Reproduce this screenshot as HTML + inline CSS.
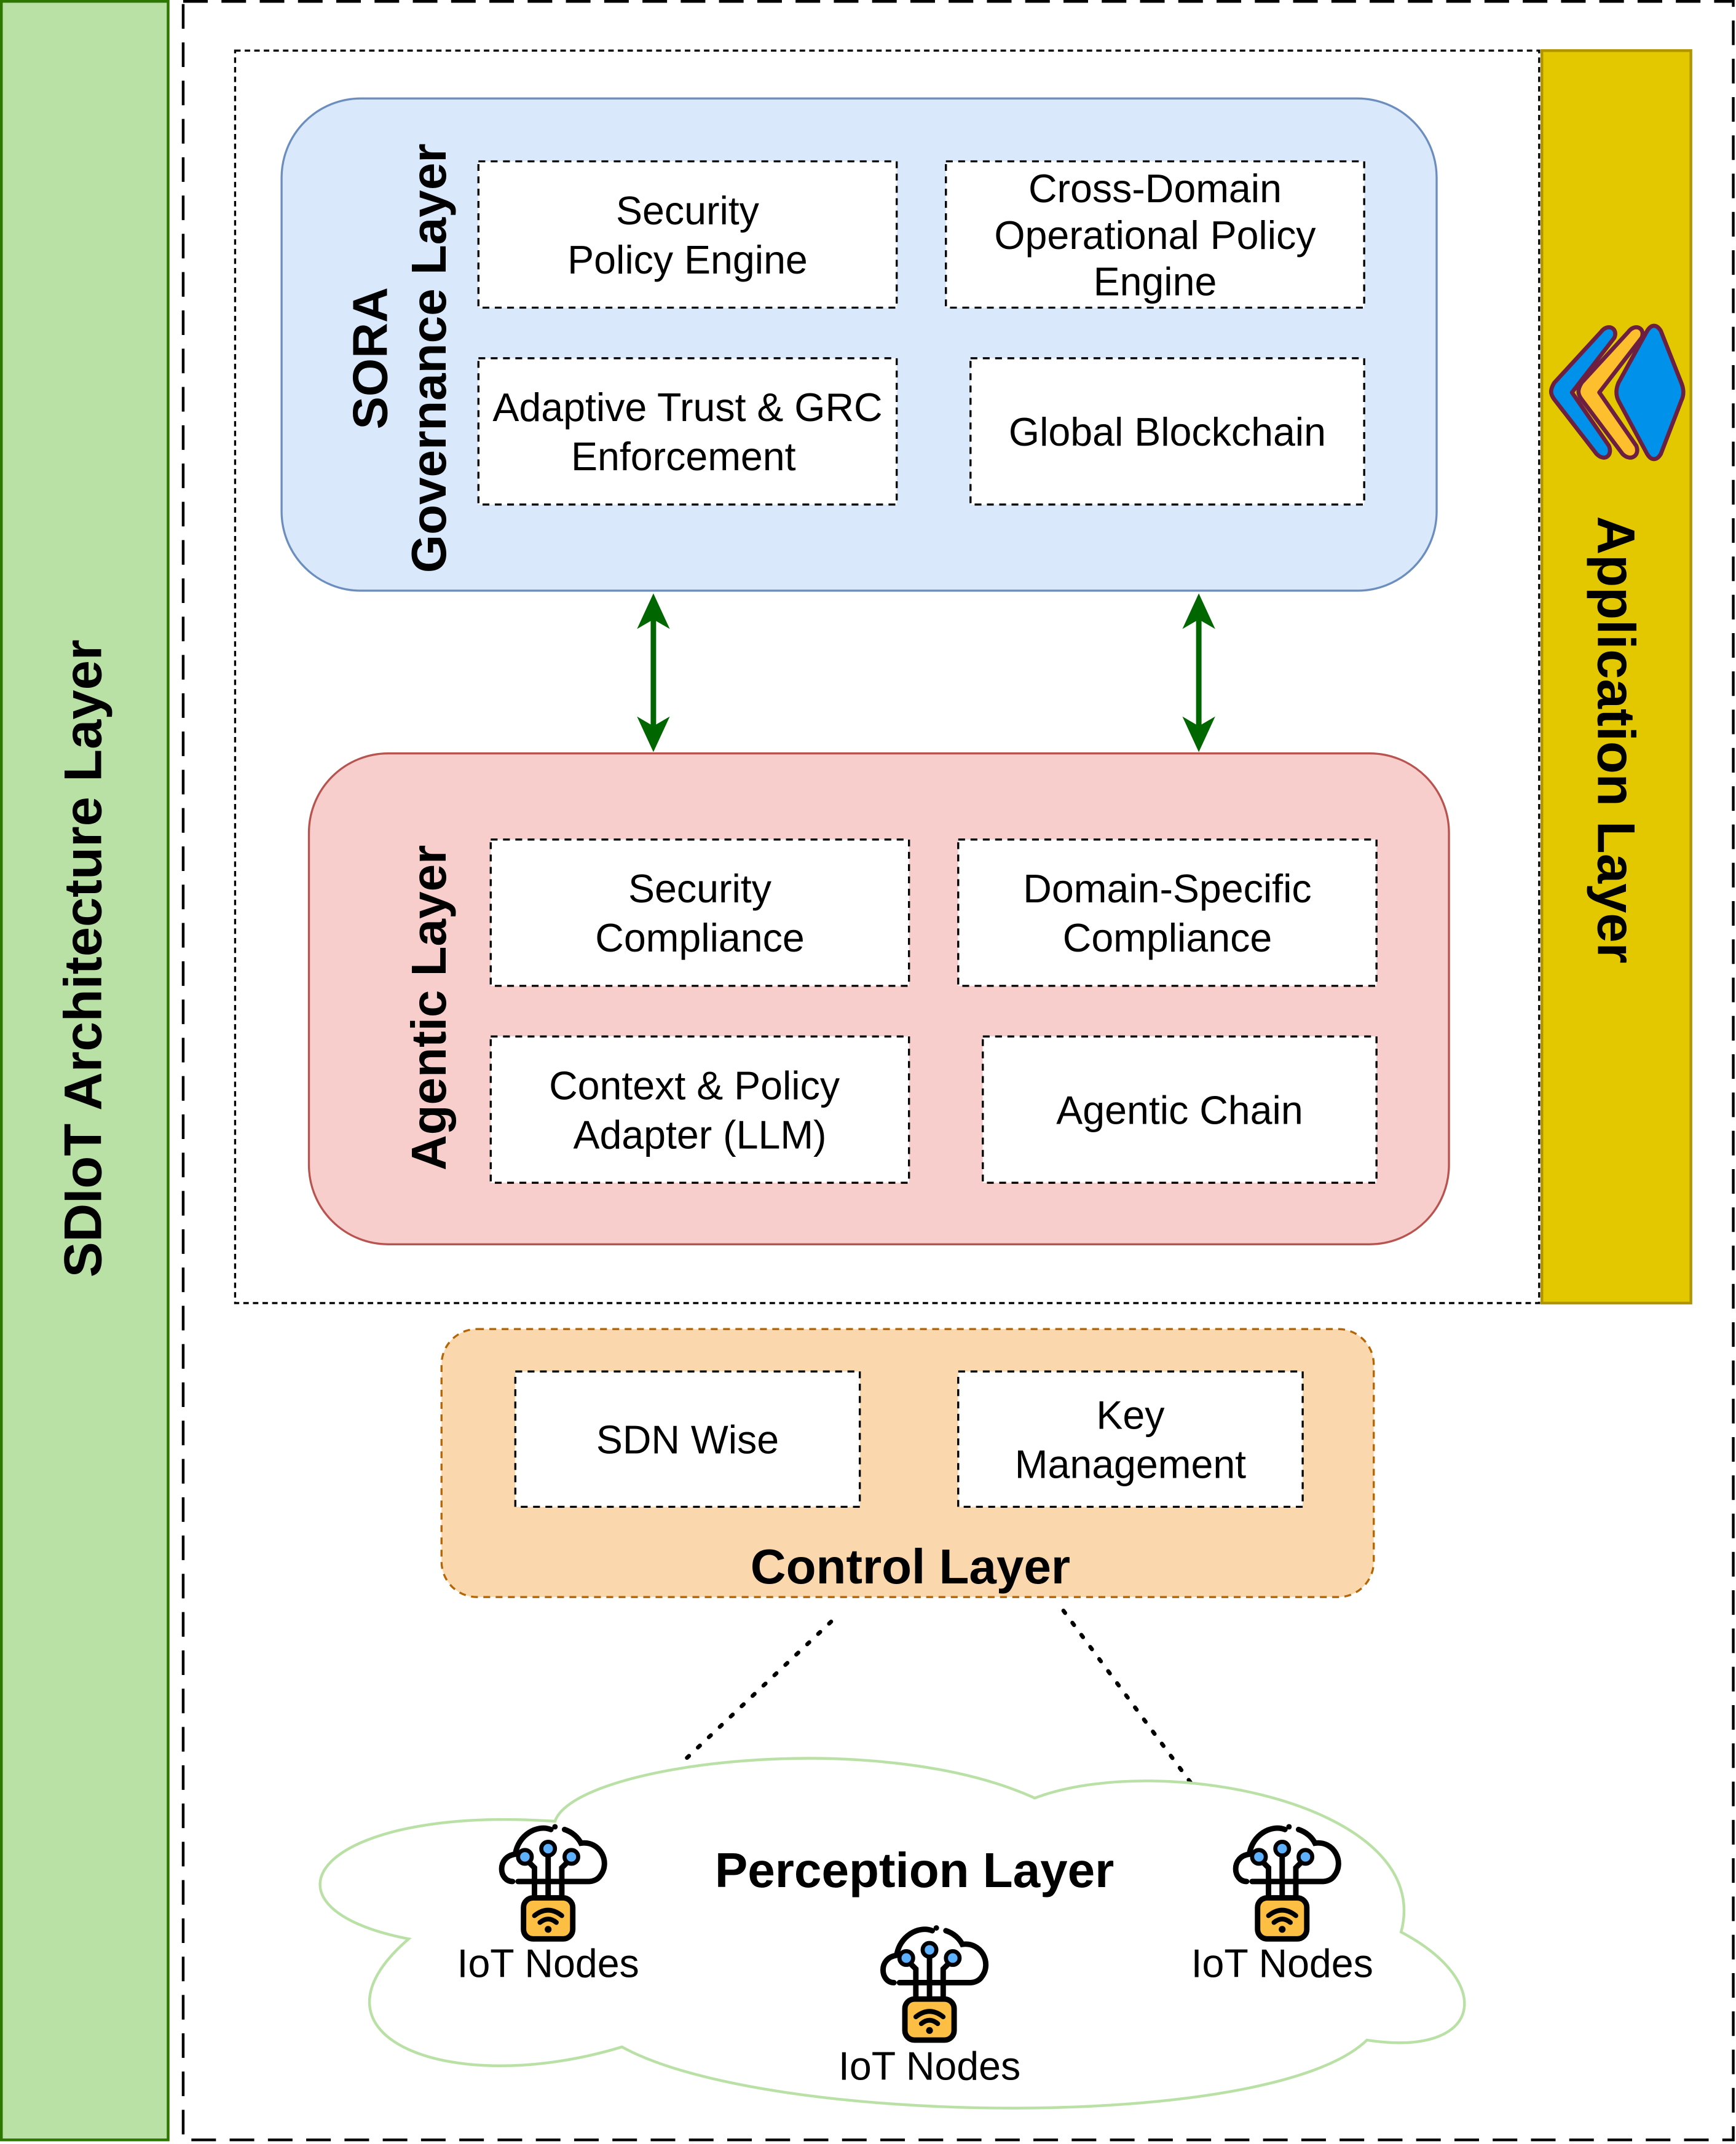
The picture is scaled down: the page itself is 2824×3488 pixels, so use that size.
<!DOCTYPE html>
<html><head><meta charset="utf-8"><style>html,body{margin:0;padding:0;background:#fff}svg{display:block}</style></head>
<body>
<svg width="2824" height="3488" viewBox="0 0 1270 1568" preserveAspectRatio="none" xmlns="http://www.w3.org/2000/svg" font-family="Liberation Sans, Arial, sans-serif">
<defs>
<g id="iot">
  <path d="M10 44 C0 44 -2 26 12 24 C14 10 28 2 38 6 M48 6 C54 8 58 12 60 16 C74 14 82 30 74 40 C72 43 68 44 66 44 L14 44" fill="none" stroke="#000" stroke-width="4" stroke-linecap="round"/>
  <path d="M36 44 L36 24 M26 44 L26 34 L20 28 M46 44 L46 34 L52 28" fill="none" stroke="#000" stroke-width="4"/>
  <line x1="26" y1="44" x2="26" y2="56" stroke="#000" stroke-width="4"/>
  <line x1="36" y1="44" x2="36" y2="56" stroke="#000" stroke-width="4"/>
  <line x1="46" y1="44" x2="46" y2="56" stroke="#000" stroke-width="4"/>
  <circle cx="36" cy="20" r="5" fill="#5eb1ff" stroke="#000" stroke-width="3"/>
  <circle cx="19" cy="26" r="5" fill="#5eb1ff" stroke="#000" stroke-width="3"/>
  <circle cx="53" cy="26" r="5" fill="#5eb1ff" stroke="#000" stroke-width="3"/>
  <circle cx="41" cy="4" r="2" fill="#000"/>
  <rect x="18" y="56" width="36" height="30" rx="7" fill="#fdbf43" stroke="#000" stroke-width="4"/>
  <path d="M26 69 Q36 61 46 69 M30 74 Q36 69 42 74" fill="none" stroke="#000" stroke-width="3.5" stroke-linecap="round"/>
  <circle cx="36" cy="79" r="2.5" fill="#000"/>
</g>
</defs>

<rect x="1" y="1" width="122" height="1564" fill="#b9e0a5" stroke="#2d7600" stroke-width="2"/>
<text transform="translate(74,701) rotate(-90)" text-anchor="middle" font-size="39" font-weight="bold">SDIoT Architecture Layer</text>

<rect x="134" y="1" width="1134" height="1564" fill="none" stroke="#000" stroke-width="2" stroke-dasharray="18,10"/>
<rect x="172" y="37" width="954" height="916" fill="none" stroke="#000" stroke-width="1.5" stroke-dasharray="4,3"/>

<rect x="1128" y="37" width="109" height="916" fill="#e3c800" stroke="#b09500" stroke-width="2"/>
<text transform="translate(1169,541) rotate(90)" text-anchor="middle" font-size="39" font-weight="bold">Application Layer</text>
<g stroke="#6d1f42" stroke-width="3" stroke-linejoin="round" stroke-linecap="round">
  <path d="M1171 243 C1176 236 1184 240 1181 247 L1150 287 L1177 326 C1180 333 1174 338 1168 332 L1137 292 C1134 288 1134 285 1137 280 Z" fill="#0091ea"/>
  <path d="M1191 243 C1196 236 1204 240 1201 247 L1170 287 L1197 326 C1200 333 1193 338 1187 332 L1157 292 C1154 288 1154 285 1157 280 Z" fill="#fdbf2d"/>
  <path d="M1205 242 C1208 237 1212 237 1215 242 L1230 280 C1232 285 1232 289 1230 293 L1215 332 C1212 337 1208 337 1205 332 L1184 293 C1182 289 1182 285 1184 280 Z" fill="#0091ea"/>
</g>

<rect x="206" y="72" width="845" height="360" rx="58" fill="#dae8fc" stroke="#6c8ebf" stroke-width="1.5"/>
<text transform="translate(283,262) rotate(-90)" text-anchor="middle" font-size="36" font-weight="bold">SORA</text>
<text transform="translate(326,262) rotate(-90)" text-anchor="middle" font-size="36" font-weight="bold">Governance Layer</text>
<g fill="#fff" stroke="#000" stroke-width="1.5" stroke-dasharray="5,4">
  <rect x="350" y="118" width="306" height="107"/>
  <rect x="692" y="118" width="306" height="107"/>
  <rect x="350" y="262" width="306" height="107"/>
  <rect x="710" y="262" width="288" height="107"/>
</g>
<g font-size="29" text-anchor="middle">
  <text x="503" y="164">Security</text><text x="503" y="200">Policy Engine</text>
  <text x="845" y="148">Cross-Domain</text><text x="845" y="182">Operational Policy</text><text x="845" y="216">Engine</text>
  <text x="503" y="308">Adaptive Trust &amp; GRC</text><text x="500" y="344">Enforcement</text>
  <text x="854" y="326">Global Blockchain</text>
</g>

<g stroke="#006600" stroke-width="4">
  <line x1="478" y1="450" x2="478" y2="532"/>
  <line x1="877" y1="450" x2="877" y2="532"/>
</g>
<g fill="#006600">
  <path d="M478 434 L466 460 L478 453 L490 460 Z"/>
  <path d="M478 550 L466 524 L478 531 L490 524 Z"/>
  <path d="M877 434 L865 460 L877 453 L889 460 Z"/>
  <path d="M877 550 L865 524 L877 531 L889 524 Z"/>
</g>

<rect x="226" y="551" width="834" height="359" rx="58" fill="#f8cecc" stroke="#b85450" stroke-width="1.5"/>
<g fill="#fff" stroke="#000" stroke-width="1.5" stroke-dasharray="5,4">
  <rect x="359" y="614" width="306" height="107"/>
  <rect x="701" y="614" width="306" height="107"/>
  <rect x="359" y="758" width="306" height="107"/>
  <rect x="719" y="758" width="288" height="107"/>
</g>
<text transform="translate(326,737) rotate(-90)" text-anchor="middle" font-size="36" font-weight="bold">Agentic Layer</text>
<g font-size="29" text-anchor="middle">
  <text x="512" y="660">Security</text><text x="512" y="696">Compliance</text>
  <text x="854" y="660">Domain-Specific</text><text x="854" y="696">Compliance</text>
  <text x="508" y="804">Context &amp; Policy</text><text x="512" y="840">Adapter (LLM)</text>
  <text x="863" y="822">Agentic Chain</text>
</g>

<rect x="323" y="972" width="682" height="196" rx="26" fill="#fad7ac" stroke="#b46504" stroke-width="1.5" stroke-dasharray="5,4"/>
<g fill="#fff" stroke="#000" stroke-width="1.5" stroke-dasharray="5,4">
  <rect x="377" y="1003" width="252" height="99"/>
  <rect x="701" y="1003" width="252" height="99"/>
</g>
<g font-size="29" text-anchor="middle">
  <text x="503" y="1063">SDN Wise</text>
  <text x="827" y="1045">Key</text><text x="827" y="1081">Management</text>
</g>
<text x="666" y="1158" text-anchor="middle" font-size="36" font-weight="bold">Control Layer</text>

<g stroke="#000" stroke-width="3" stroke-dasharray="2,9" stroke-linecap="round">
  <line x1="608" y1="1186" x2="500" y2="1288"/>
  <line x1="778" y1="1178" x2="872" y2="1305"/>
</g>

<path d="M406 1332 C420 1290 640 1262 757 1315 C850 1280 1050 1320 1025 1413 C1095 1450 1085 1505 1000 1492 C930 1560 560 1555 455 1497 C330 1535 215 1490 299 1418 C180 1395 230 1320 406 1332 Z" fill="#fff" stroke="#b9e0a5" stroke-width="2"/>
<text x="669" y="1380" text-anchor="middle" font-size="36" font-weight="bold">Perception Layer</text>
<use href="#iot" transform="translate(365,1332)"/>
<use href="#iot" transform="translate(644,1406)"/>
<use href="#iot" transform="translate(902,1332)"/>
<g font-size="29" text-anchor="middle">
  <text x="401" y="1446">IoT Nodes</text>
  <text x="680" y="1521">IoT Nodes</text>
  <text x="938" y="1446">IoT Nodes</text>
</g>
</svg>
</body></html>
